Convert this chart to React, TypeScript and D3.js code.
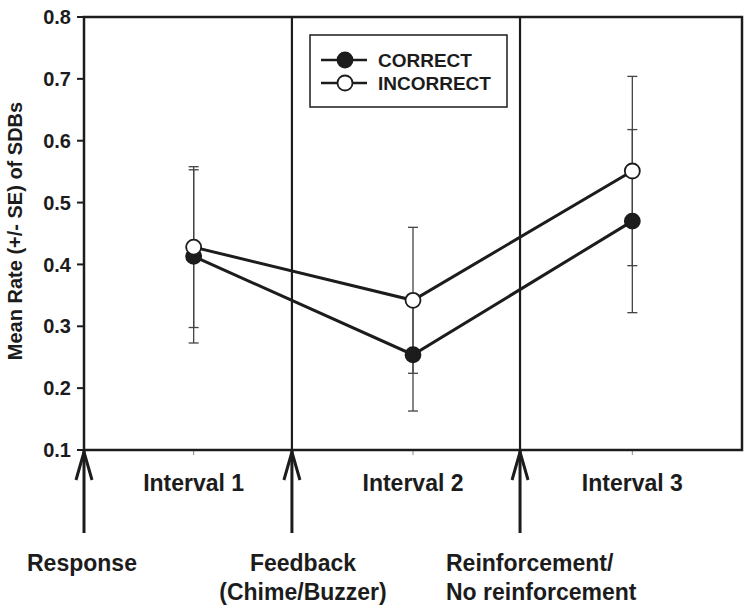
import React from "react";
import * as d3 from "d3";

const intervals = ["Interval 1", "Interval 2", "Interval 3"];
const intervalPos = [1, 2, 3];
const correctMean = [0.413, 0.254, 0.47];
const correctSE = [0.14, 0.091, 0.148];
const incorrectMean = [0.428, 0.342, 0.551];
const incorrectSE = [0.13, 0.118, 0.153];
const yTicks = [0.1, 0.2, 0.3, 0.4, 0.5, 0.6, 0.7, 0.8];
const eventPos = [0.5, 1.448, 2.488];
const eventLabels = [["Response"], ["Feedback", "(Chime/Buzzer)"], ["Reinforcement/", "No reinforcement"]];
const eventAnchor = ["start", "middle", "start"];
const seriesNames = ["CORRECT", "INCORRECT"];

const W = 750;
const H = 611;
const left = 84;
const right = 742;
const top = 17;
const bottom = 450;
const ink = "#1c1c1c";
const font = "'Liberation Sans', Arial, Helvetica, sans-serif";

export default function App() {
  const x = d3.scaleLinear().domain([0.5, 3.5]).range([left, right]);
  const y = d3.scaleLinear().domain([0.1, 0.8]).range([bottom, top]);
  const line = d3
    .line<number>()
    .x((_, i) => x(intervalPos[i]))
    .y((d) => y(d));

  const series = [
    { name: seriesNames[0], mean: correctMean, se: correctSE, fill: ink },
    { name: seriesNames[1], mean: incorrectMean, se: incorrectSE, fill: "#fff" },
  ];

  const eventLabelX = [27, 303, 446];

  return (
    <svg width={W} height={H} style={{ position: "absolute", left: 0, top: 0, background: "#fff" }} fontFamily={font}>
      <rect x={0} y={0} width={W} height={H} fill="#fff" />
      {/* y title */}
      <text
        transform={`translate(22,${231}) rotate(-90)`}
        textAnchor="middle"
        fontSize={20}
        fontWeight="bold"
        fill={ink}
      >
        Mean Rate (+/- SE) of SDBs
      </text>
      {/* y ticks */}
      {yTicks.map((t) => (
        <g key={t}>
          <line x1={left - 7} x2={left} y1={y(t)} y2={y(t)} stroke={ink} strokeWidth={2} />
          <text x={left - 13} y={y(t)} dy="0.36em" textAnchor="end" fontSize={20} fontWeight="bold" fill={ink}>
            {t.toFixed(1)}
          </text>
        </g>
      ))}
      {/* x faint ticks */}
      {intervalPos.map((p) => (
        <line key={p} x1={x(p)} x2={x(p)} y1={bottom} y2={bottom + 5} stroke="#888" strokeWidth={1} />
      ))}
      {/* frame */}
      <rect x={left} y={top} width={right - left} height={bottom - top} fill="none" stroke={ink} strokeWidth={2.5} />
      {/* event vertical lines */}
      {eventPos.slice(1).map((p) => (
        <line key={p} x1={x(p)} x2={x(p)} y1={top} y2={bottom} stroke={ink} strokeWidth={2.2} />
      ))}
      {/* error bars */}
      {series.map((s) =>
        s.mean.map((m, i) => {
          const cx = x(intervalPos[i]);
          return (
            <g key={s.name + i} stroke="#444" strokeWidth={1.3}>
              <line x1={cx} x2={cx} y1={y(m - s.se[i])} y2={y(m + s.se[i])} />
              <line x1={cx - 5} x2={cx + 5} y1={y(m - s.se[i])} y2={y(m - s.se[i])} />
              <line x1={cx - 5} x2={cx + 5} y1={y(m + s.se[i])} y2={y(m + s.se[i])} />
            </g>
          );
        })
      )}
      {/* lines */}
      {series.map((s) => (
        <path key={s.name} d={line(s.mean) || ""} fill="none" stroke={ink} strokeWidth={3} />
      ))}
      {/* points */}
      {series.map((s) =>
        s.mean.map((m, i) => (
          <circle key={s.name + "p" + i} cx={x(intervalPos[i])} cy={y(m)} r={7.5} fill={s.fill} stroke={ink} strokeWidth={1.8} />
        ))
      )}
      {/* legend */}
      <rect x={310} y={35} width={197} height={72} fill="#fff" stroke={ink} strokeWidth={1.5} />
      {series.map((s, i) => {
        const ly = 60 + i * 23;
        return (
          <g key={s.name + "leg"}>
            <line x1={321} x2={367} y1={ly} y2={ly} stroke={ink} strokeWidth={2.5} />
            <circle cx={345} cy={ly} r={7.5} fill={s.fill} stroke={ink} strokeWidth={1.8} />
            <text x={378} y={ly} dy="0.36em" fontSize={19} fontWeight="bold" fill={ink}>
              {s.name}
            </text>
          </g>
        );
      })}
      {/* interval labels */}
      {intervals.map((l, i) => (
        <text key={l} x={x(intervalPos[i])} y={491} textAnchor="middle" fontSize={23} fontWeight="bold" fill={ink}>
          {l}
        </text>
      ))}
      {/* arrows */}
      {eventPos.map((p) => {
        const ax = x(p);
        return (
          <g key={"arr" + p} stroke={ink} fill="none" strokeWidth={3}>
            <line x1={ax} x2={ax} y1={bottom + 1} y2={533} />
            <path d={`M${ax - 8},${bottom + 30} L${ax},${bottom + 2} L${ax + 8},${bottom + 30}`} strokeLinejoin="miter" />
          </g>
        );
      })}
      {/* event labels */}
      {eventLabels.map((lines, i) =>
        lines.map((t, j) => (
          <text
            key={t}
            x={eventLabelX[i]}
            y={571 + j * 29}
            textAnchor={eventAnchor[i] as any}
            fontSize={23}
            fontWeight="bold"
            fill={ink}
          >
            {t}
          </text>
        ))
      )}
    </svg>
  );
}
